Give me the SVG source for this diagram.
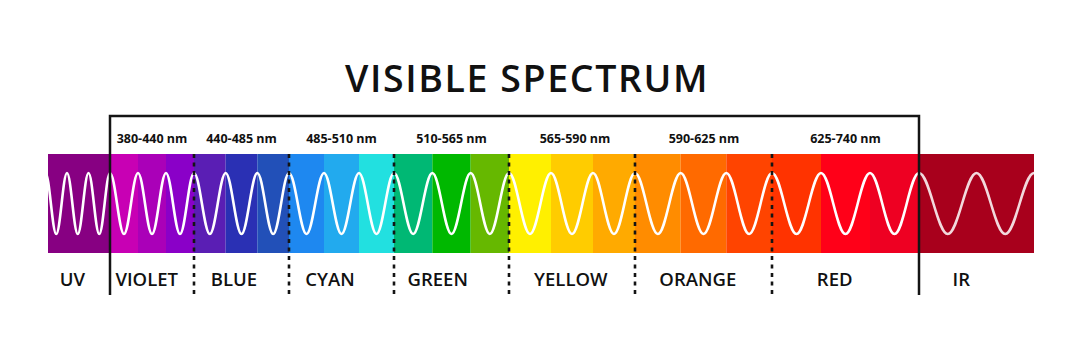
<svg xmlns="http://www.w3.org/2000/svg" width="1082" height="360" viewBox="0 0 1082 360">
<style>
.title{font-family:"Open Sans","Liberation Sans",sans-serif;font-weight:600;font-size:37.5px;letter-spacing:1.6px;fill:#111;text-anchor:middle}
.rng{font-family:"Open Sans","Liberation Sans",sans-serif;font-weight:700;font-size:12.5px;fill:#111;text-anchor:middle}
.lbl{font-family:"Open Sans","Liberation Sans",sans-serif;font-weight:600;font-size:18.5px;fill:#111;text-anchor:middle}
.wave{fill:none;stroke:#fff;stroke-width:2.6}
.solid{fill:none;stroke:#141414;stroke-width:2.5}
.dash{fill:none;stroke:#141414;stroke-width:2.6;stroke-dasharray:4 4.5}
</style>
<defs>
<clipPath id="bandclip"><rect x="48" y="154" width="986" height="99"/></clipPath>
</defs>
<rect width="1082" height="360" fill="#fff"/>
<g id="band">
<rect x="48" y="154" width="62" height="99" fill="#870082"/>
<rect x="110" y="154" width="28" height="99" fill="#C800B4"/>
<rect x="138" y="154" width="28" height="99" fill="#AA00B8"/>
<rect x="166" y="154" width="28" height="99" fill="#8A00C8"/>
<rect x="194" y="154" width="31.67" height="99" fill="#5A1EB4"/>
<rect x="225.67" y="154" width="31.67" height="99" fill="#2A30B4"/>
<rect x="257.33" y="154" width="31.67" height="99" fill="#2250B8"/>
<rect x="289" y="154" width="35" height="99" fill="#1E88F0"/>
<rect x="324" y="154" width="35" height="99" fill="#22AAEE"/>
<rect x="359" y="154" width="35" height="99" fill="#22E0E0"/>
<rect x="394" y="154" width="38.33" height="99" fill="#00B874"/>
<rect x="432.33" y="154" width="38.33" height="99" fill="#00B800"/>
<rect x="470.67" y="154" width="38.33" height="99" fill="#66B800"/>
<rect x="509" y="154" width="42" height="99" fill="#FFF000"/>
<rect x="551" y="154" width="42" height="99" fill="#FFCC00"/>
<rect x="593" y="154" width="42" height="99" fill="#FFAA00"/>
<rect x="635" y="154" width="45.67" height="99" fill="#FF8C00"/>
<rect x="680.67" y="154" width="45.67" height="99" fill="#FF6A00"/>
<rect x="726.33" y="154" width="45.67" height="99" fill="#FF4400"/>
<rect x="772" y="154" width="49" height="99" fill="#FF3300"/>
<rect x="821" y="154" width="49" height="99" fill="#FF0018"/>
<rect x="870" y="154" width="49" height="99" fill="#EE0022"/>
<rect x="919" y="154" width="115" height="99" fill="#A8001C"/>
</g>
<g id="wave" clip-path="url(#bandclip)">
<path class="wave" d="M45.5,173 C49.41,173 52.34,234 56.25,234 C60.16,234 63.09,173 67,173 C70.91,173 73.84,234 77.75,234 C81.66,234 84.59,173 88.5,173 C92.41,173 95.34,234 99.25,234 C103.16,234 106.09,173 110,173
C115.09,173 118.91,234 124,234 C129.09,234 132.91,173 138,173 C143.09,173 146.91,234 152,234 C157.09,234 160.91,173 166,173 C171.09,173 174.91,234 180,234 C185.09,234 188.91,173 194,173
C199.75,173 204.08,234 209.83,234 C215.58,234 219.92,173 225.67,173 C231.42,173 235.75,234 241.5,234 C247.25,234 251.58,173 257.33,173 C263.08,173 267.42,234 273.17,234 C278.92,234 283.25,173 289,173
C295.36,173 300.14,234 306.5,234 C312.86,234 317.64,173 324,173 C330.36,173 335.14,234 341.5,234 C347.86,234 352.64,173 359,173 C365.36,173 370.14,234 376.5,234 C382.86,234 387.64,173 394,173
C400.96,173 406.21,234 413.17,234 C420.13,234 425.37,173 432.33,173 C439.29,173 444.54,234 451.5,234 C458.46,234 463.71,173 470.67,173 C477.63,173 482.87,234 489.83,234 C496.79,234 502.04,173 509,173
C516.63,173 522.37,234 530,234 C537.63,234 543.37,173 551,173 C558.63,173 564.37,234 572,234 C579.63,234 585.37,173 593,173 C600.63,173 606.37,234 614,234 C621.63,234 627.37,173 635,173
C643.3,173 649.53,234 657.83,234 C666.13,234 672.37,173 680.67,173 C688.97,173 695.2,234 703.5,234 C711.8,234 718.03,173 726.33,173 C734.63,173 740.87,234 749.17,234 C757.47,234 763.7,173 772,173
C780.9,173 787.6,234 796.5,234 C805.4,234 812.1,173 821,173 C829.9,173 836.6,234 845.5,234 C854.4,234 861.1,173 870,173 C878.9,173 885.6,234 894.5,234 C903.4,234 910.1,173 919,173"/>
<path class="wave" opacity="0.85" d="M919,173 C929.45,173 937.3,234 947.75,234 C958.2,234 966.05,173 976.5,173 C986.95,173 994.8,234 1005.25,234 C1015.7,234 1023.55,173 1034,173"/>
</g>
<g id="dividers">
<path class="solid" d="M110,295 V116 H919 V295"/>
<path class="dash" d="M194,154 V295 M289,154 V295 M394,154 V295 M509,154 V295 M635,154 V295 M772,154 V295"/>
</g>
<g id="title"><text class="title" x="527" y="92">VISIBLE SPECTRUM</text></g>
<g id="ranges">
<text class="rng" x="152" y="143">380-440 nm</text>
<text class="rng" x="241.5" y="143">440-485 nm</text>
<text class="rng" x="341.5" y="143">485-510 nm</text>
<text class="rng" x="451.5" y="143">510-565 nm</text>
<text class="rng" x="575" y="143">565-590 nm</text>
<text class="rng" x="704" y="143">590-625 nm</text>
<text class="rng" x="845.5" y="143">625-740 nm</text>
</g>
<g id="labels">
<text class="lbl" x="72.5" y="285.5">UV</text>
<text class="lbl" x="146.7" y="285.5">VIOLET</text>
<text class="lbl" x="234" y="285.5">BLUE</text>
<text class="lbl" x="330" y="285.5">CYAN</text>
<text class="lbl" x="437.7" y="285.5">GREEN</text>
<text class="lbl" x="570.8" y="285.5">YELLOW</text>
<text class="lbl" x="697.8" y="285.5">ORANGE</text>
<text class="lbl" x="834.7" y="285.5">RED</text>
<text class="lbl" x="961.3" y="285.5">IR</text>
</g>
</svg>
